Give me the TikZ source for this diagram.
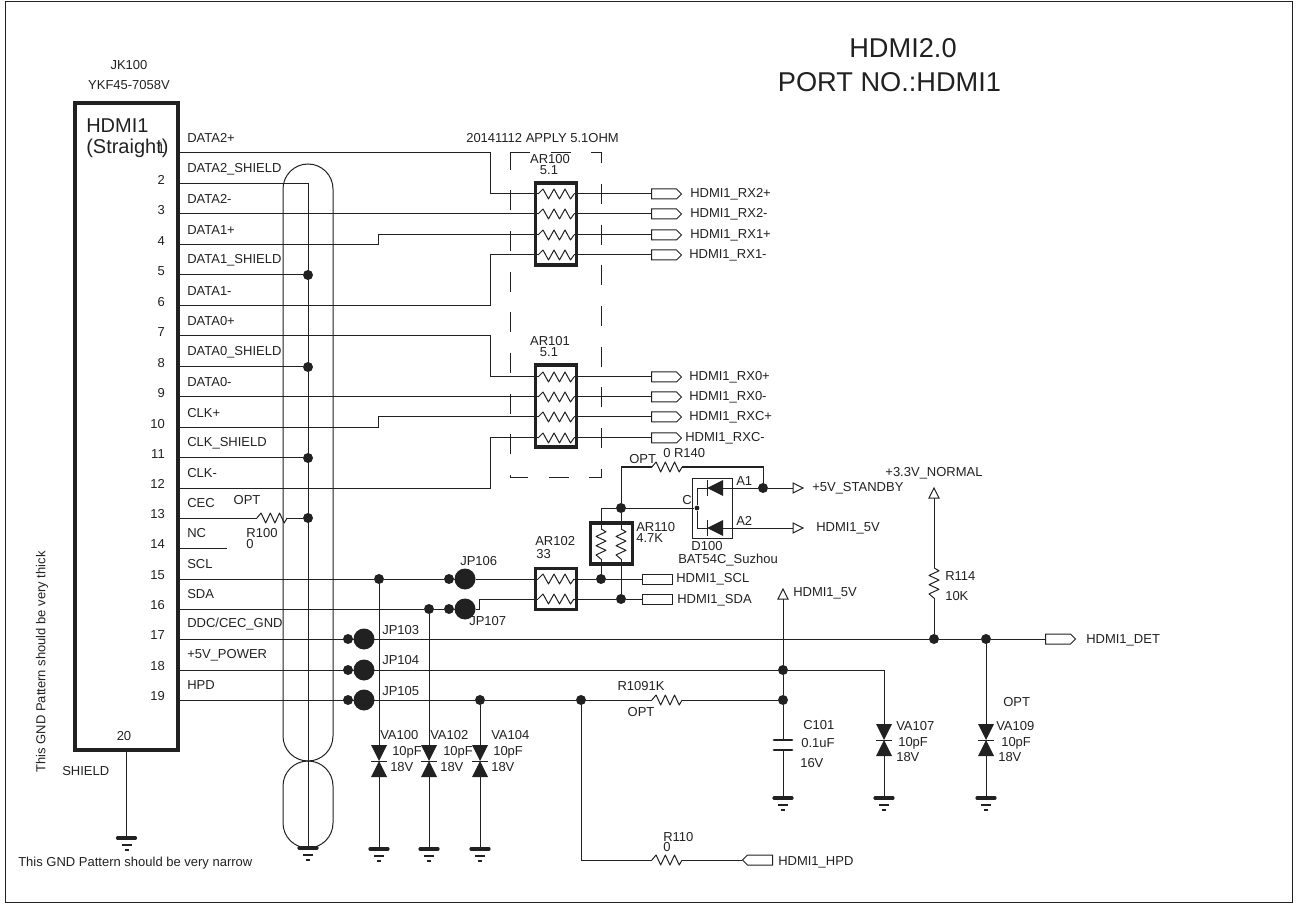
\documentclass[tikz,border=0pt]{standalone}
\usepackage{fontspec}
\setmainfont{Liberation Sans}
\usetikzlibrary{shapes.symbols}
\definecolor{ink}{gray}{0.13}

\begin{document}
\begin{tikzpicture}[
  x=.75pt,y=-.75pt,
  wire/.style={draw=ink,line width=.75pt},
  frame/.style={draw=ink,line width=.75pt,minimum width=965.25pt,minimum height=675pt},
  block/.style={draw=ink,line width=2.4pt,inner sep=0pt},
  guard/.style={draw=ink,line width=.75pt,dash pattern=on 15pt off 15.5pt},
  tube/.style={draw=ink,line width=.75pt,rounded corners=18.75pt,minimum width=37.5pt,inner sep=0pt},
  dot/.style={circle,fill=ink,inner sep=0pt,minimum size=7.5pt},
  tinydot/.style={circle,fill=ink,inner sep=0pt,minimum size=3.6pt},
  jumper/.style={circle,fill=ink,inner sep=0pt,minimum size=15.75pt},
  outport/.style={signal,signal to=east,draw=ink,line width=.75pt,inner sep=0pt,minimum width=22.5pt,minimum height=7.5pt},
  inport/.style={signal,signal to=west,draw=ink,line width=.75pt,inner sep=0pt,minimum width=22.5pt,minimum height=7.5pt},
  boxport/.style={draw=ink,line width=.75pt,inner sep=0pt,minimum width=22.5pt,minimum height=7.5pt},
  lbl/.style={text=ink,anchor=west,inner sep=0pt,font=\fontsize{9.75}{10}\selectfont},
  title/.style={text=ink,inner sep=0pt,font=\fontsize{20.4}{24}\selectfont},
  conn/.style={text=ink,anchor=west,inner sep=0pt,font=\fontsize{15}{17}\selectfont},
  rsmall/.style={xscale=.84},
  resistor/.pic={
    \draw[wire,line join=round] (-18,0) -- (-13,-5) -- (-7.5,5) -- (-2,-5) -- (3.5,5) -- (9,-5) -- (14.5,5) -- (18,0);
    \coordinate (-in) at (-18,0);
    \coordinate (-out) at (18,0);
  },
  ground/.pic={
    \draw[draw=ink,line width=2.4pt,line cap=round] (-9,0) -- (9,0);
    \draw[draw=ink,line width=.9pt] (-5,7) -- (5,7);
    \draw[draw=ink,line width=.9pt] (-2,12) -- (2,12);
    \coordinate (-top) at (0,0);
  },
  clamp/.pic={
    \fill[ink] (-8,-16) -- (8,-16) -- (0,0) -- cycle;
    \fill[ink] (-8,16) -- (8,16) -- (0,0) -- cycle;
    \draw[wire] (-8,0) -- (8,0);
    \coordinate (-top) at (0,-16);
    \coordinate (-bot) at (0,16);
  },
  diode/.pic={
    \fill[ink] (0,0) -- (16,-8) -- (16,8) -- cycle;
    \draw[wire] (0,-8) -- (0,8);
    \coordinate (-k) at (0,0);
    \coordinate (-a) at (16,0);
  },
  capplates/.pic={
    \draw[draw=ink,line width=2.2pt,line cap=round] (-9,-5) -- (9,-5);
    \draw[draw=ink,line width=2.2pt,line cap=round] (-9,5) -- (9,5);
    \coordinate (-top) at (0,-5);
    \coordinate (-bot) at (0,5);
  },
  rail/.pic={
    \draw[wire] (-5,0) -- (0,-10) -- (5,0) -- cycle;
    \coordinate (-base) at (0,0);
  }]
  \useasboundingbox (0,0) rectangle (1296,905);

  % Sheet frame and headings
  \node[frame] (sheet) at (648.5,452) {};
  \node[title] (head1) at (903,48) {HDMI2.0};
  \node[title] (head2) at (889.5,82) {PORT NO.:HDMI1};
  \node[lbl,anchor=center] (refJK) at (129,65) {JK100};
  \node[lbl,anchor=center] (partJK) at (129,85) {YKF45-7058V};
  \node[lbl] (apply) at (466,138) {20141112 APPLY 5.1OHM};

  % Connector body, shield tube, guard outline
  \node[block,minimum width=77.25pt,minimum height=485.25pt] (JK) at (126.5,426.5) {};
  \node[conn] (JKa) at (86,126) {HDMI1};
  \node[conn] (JKb) at (86,148) {(Straight)};
  \node[lbl,anchor=center] (pin20) at (124,736) {20};
  \node[lbl] (shield) at (62,771) {SHIELD};
  \node[lbl,rotate=90,anchor=center] (thick) at (42,662) {This GND Pattern should be very thick};
  \node[lbl] (narrow) at (18,863) {This GND Pattern should be very narrow};
  \node[tube,minimum height=447.75pt] (tubeA) at (308,462.5) {};
  \node[tube,minimum height=65.25pt] (tubeB) at (308,804.5) {};
  \draw[guard] (510,153) -- (601,153) -- (601,477) -- (510,477) -- cycle;

  % Pins down the right side of the connector
  \foreach \n/\py/\name in {1/153/DATA2+,2/184/DATA2\_SHIELD,3/214/DATA2-,4/245/DATA1+,
      5/275/DATA1\_SHIELD,6/306/DATA1-,7/336/DATA0+,8/367/DATA0\_SHIELD,9/397/DATA0-,
      10/428/CLK+,11/458/CLK\_SHIELD,12/488/CLK-,13/518/CEC,14/548/NC,15/579/SCL,
      16/609/SDA,17/639/{DDC/CEC\_GND},18/670/+5V\_POWER,19/700/HPD}{
    \coordinate (pin\n) at (178,\py);
    \node[lbl,anchor=east] (num\n) at (165,\py-4) {\n};
    \node[lbl] (name\n) at (187,\py-15) {\name};
  }

  % Series resistor packs and their output ports
  \node[block,minimum width=31pt,minimum height=61.5pt] (AR100) at (556,224) {};
  \node[block,minimum width=31pt,minimum height=61.5pt] (AR101) at (556,406) {};
  \node[block,minimum width=31pt,minimum height=30.75pt] (AR102) at (556,589) {};
  \foreach \k/\ry/\net/\lx in {a/194/RX2+/690,b/214/RX2-/690,c/235/RX1+/690,d/255/RX1-/689,
      e/377/RX0+/689,f/397/RX0-/689,g/417/RXC+/689,h/438/RXC-/685}{
    \pic (R\k) at (556,\ry) {resistor};
    \node[outport] (port\k) at (664,\ry) {};
    \node[lbl] (net\k) at (\lx,\ry) {HDMI1\_\net};
    \draw[wire] (R\k-out) -- (port\k.west);
  }
  \node[lbl,anchor=center] (refAR100) at (550,159) {AR100};
  \node[lbl,anchor=center] (valAR100) at (549,170) {5.1};
  \node[lbl,anchor=center] (refAR101) at (550,341) {AR101};
  \node[lbl,anchor=center] (valAR101) at (549,352) {5.1};
  \node[lbl] (refAR102) at (535,541) {AR102};
  \node[lbl] (valAR102) at (536,554) {33};

  \draw[wire] (pin1) -- ++(312,0) |- (Ra-in);
  \draw[wire] (pin3) -- (Rb-in);
  \draw[wire] (pin4) -- ++(200,0) |- (Rc-in);
  \draw[wire] (pin6) -- ++(312,0) |- (Rd-in);
  \draw[wire] (pin7) -- ++(312,0) |- (Re-in);
  \draw[wire] (pin9) -- (Rf-in);
  \draw[wire] (pin10) -- ++(200,0) |- (Rg-in);
  \draw[wire] (pin12) -- ++(312,0) |- (Rh-in);
  \coordinate (stubNC) at (227,548);
  \draw[wire] (pin14) -- (stubNC);

  % Shield wire and CEC
  \pic (gndS) at (126.5,838) {ground};
  \pic (gndT) at (308,848) {ground};
  \draw[wire] (JK.south) -- (gndS-top);
  \draw[wire] (pin2) -| (gndT-top);
  \foreach \n in {5,8,11,13}{
    \node[dot] (sh\n) at (pin\n-|gndT-top) {};
  }
  \draw[wire] (pin5) -- (sh5);
  \draw[wire] (pin8) -- (sh8);
  \draw[wire] (pin11) -- (sh11);
  \pic[rsmall] (R100) at (272,518) {resistor};
  \draw[wire] (pin13) -- (R100-in);
  \draw[wire] (R100-out) -- (sh13);
  \node[lbl,anchor=center] (optR100) at (247,500) {OPT};
  \node[lbl,anchor=center] (refR100) at (262,533) {R100};
  \node[lbl,anchor=center] (valR100) at (250,544) {0};

  % DDC lines with jumpers, pull-ups and the BAT54C
  \node[dot] (jSCL) at (379,579) {};
  \node[dot] (jSDA) at (429,609) {};
  \node[dot] (JP106s) at (449,579) {};
  \node[jumper] (JP106b) at (465,579) {};
  \node[dot] (JP107s) at (449,609) {};
  \node[jumper] (JP107b) at (465,609) {};
  \node[lbl] (refJP106) at (460,561) {JP106};
  \node[lbl] (refJP107) at (469,621) {JP107};
  \pic (Ri) at (556,579) {resistor};
  \pic (Rj) at (556,599) {resistor};
  \draw[wire] (pin15) -- (jSCL) -- (JP106s) -- (JP106b) -- (Ri-in);
  \draw[wire] (pin16) -- (jSDA) -- (JP107s) -- (JP107b);
  \draw[wire] (JP107b) -- ++(14,0) |- (Rj-in);
  \node[dot] (jSCLr) at (601,579) {};
  \node[dot] (jSDAr) at (621,599) {};
  \node[boxport] (portSCL) at (657,579) {};
  \node[boxport] (portSDA) at (657,599) {};
  \node[lbl] (netSCL) at (676,579) {HDMI1\_SCL};
  \node[lbl] (netSDA) at (677,600) {HDMI1\_SDA};
  \draw[wire] (Ri-out) -- (jSCLr) -- (portSCL.west);
  \draw[wire] (Rj-out) -- (jSDAr) -- (portSDA.west);

  \node[block,minimum width=32pt,minimum height=30.75pt] (AR110) at (611.5,543.5) {};
  \pic[rotate=90,rsmall] (Rk) at (601,544) {resistor};
  \pic[rotate=90,rsmall] (Rl) at (621,544) {resistor};
  \node[lbl] (refAR110) at (636,527) {AR110};
  \node[lbl] (valAR110) at (636,538) {4.7K};
  \node[dot] (jC) at (621,508) {};
  \node[tinydot] (jK) at (697,508) {};
  \draw[wire] (Rk-in) -- (jSCLr);
  \draw[wire] (Rl-in) -- (jSDAr);
  \draw[wire] (Rk-out) |- (jC);
  \draw[wire] (Rl-out) -- (jC);
  \draw[wire] (jC) -- (jK);

  \pic[rsmall] (R140) at (667,467) {resistor};
  \node[dot] (jA1) at (763,488) {};
  \draw[wire] (jC) |- (R140-in);
  \draw[wire] (R140-out) -| (jA1);
  \node[lbl] (optR140) at (629,459) {OPT};
  \node[lbl] (refR140) at (663,453) {0 R140};

  \node[draw=ink,line width=.75pt,minimum width=30pt,minimum height=45pt,inner sep=0pt] (D100) at (712,508) {};
  \pic (Da) at (707,488) {diode};
  \pic (Db) at (707,528) {diode};
  \draw[wire] (jK) |- (Da-k);
  \draw[wire] (jK) |- (Db-k);
  \pic[rotate=-90] (rail5V) at (793,488) {rail};
  \pic[rotate=-90] (railHDMI) at (793,528) {rail};
  \draw[wire] (Da-a) -- (jA1) -- (rail5V-base);
  \draw[wire] (Db-a) -- (railHDMI-base);
  \node[lbl,anchor=center] (labC) at (687,500) {C};
  \node[lbl] (labA1) at (736,481) {A1};
  \node[lbl] (labA2) at (736,521) {A2};
  \node[lbl,anchor=center] (refD100) at (707,546) {D100};
  \node[lbl,anchor=center] (partD100) at (728,560) {BAT54C\_Suzhou};
  \node[lbl] (net5V) at (812,488) {+5V\_STANDBY};
  \node[lbl] (netHDMI) at (816,528) {HDMI1\_5V};

  % Power, detect and hot plug lines
  \node[jumper] (JP103b) at (364,639) {};
  \node[dot] (JP103s) at (348,639) {};
  \node[jumper] (JP104b) at (364,670) {};
  \node[dot] (JP104s) at (348,670) {};
  \node[jumper] (JP105b) at (364,700) {};
  \node[dot] (JP105s) at (348,700) {};
  \node[lbl] (refJP103) at (382,630) {JP103};
  \node[lbl] (refJP104) at (382,660) {JP104};
  \node[lbl] (refJP105) at (382,691) {JP105};

  \node[dot] (jR114) at (934,639) {};
  \node[dot] (jVA109) at (986,639) {};
  \node[outport] (portDET) at (1058,639) {};
  \node[lbl] (netDET) at (1086,640) {HDMI1\_DET};
  \draw[wire] (pin17) -- (jR114) -- (jVA109) -- (portDET.west);
  \pic[rotate=90,rsmall] (R114) at (934,583) {resistor};
  \pic (rail33) at (934,498) {rail};
  \draw[wire] (jR114) -- (R114-in);
  \draw[wire] (R114-out) -- (rail33-base);
  \node[lbl] (refR114) at (945,576) {R114};
  \node[lbl] (valR114) at (945,596) {10K};
  \node[lbl,anchor=center] (net33) at (934,473) {+3.3V\_NORMAL};

  \node[dot] (jV5) at (783,670) {};
  \node[dot] (jHPDa) at (783,700) {};
  \pic (railV5) at (783,599) {rail};
  \node[lbl] (netV5) at (793,593) {HDMI1\_5V};
  \draw[wire] (pin18) -- (jV5) -- (railV5-base);
  \node[dot] (jVA104) at (480,700) {};
  \node[dot] (jHPD) at (581,700) {};
  \pic[rsmall] (R109) at (667,700) {resistor};
  \draw[wire] (pin19) -- (jVA104) -- (jHPD) -- (R109-in);
  \draw[wire] (R109-out) -- (jHPDa) -- (jV5);
  \node[lbl,anchor=center] (refR109) at (641,686) {R1091K};
  \node[lbl,anchor=center] (optR109) at (641,712) {OPT};

  \pic[rsmall] (R110) at (667,860) {resistor};
  \node[inport] (portHPD) at (760,860) {};
  \node[lbl] (netHPD) at (778,862) {HDMI1\_HPD};
  \draw[wire] (jHPD) |- (R110-in);
  \draw[wire] (R110-out) -- (portHPD.west);
  \node[lbl] (refR110) at (663,837) {R110};
  \node[lbl] (valR110) at (663,847) {0};

  % Clamp diodes and capacitor to ground
  \foreach \v/\vx/\from/\lxa/\lxb/\lxc in {VA100/379/jSCL/380/392/390,VA102/429/jSDA/430/443/440,VA104/480/jVA104/491/493/491}{
    \pic (\v) at (\vx,761) {clamp};
    \pic (gnd\v) at (\vx,849) {ground};
    \draw[wire] (\from) -- (\v-top);
    \draw[wire] (\v-bot) -- (gnd\v-top);
    \node[lbl] (ref\v) at (\lxa,735) {\v};
    \node[lbl] (cap\v) at (\lxb,752) {10pF};
    \node[lbl] (vol\v) at (\lxc,767) {18V};
  }
  \pic (VA107) at (884,740) {clamp};
  \pic (gndVA107) at (884,798) {ground};
  \draw[wire] (jV5) -| (VA107-top);
  \draw[wire] (VA107-bot) -- (gndVA107-top);
  \node[lbl] (refVA107) at (896,726) {VA107};
  \node[lbl] (capVA107) at (898,743) {10pF};
  \node[lbl] (volVA107) at (896,757) {18V};

  \pic (VA109) at (986,740) {clamp};
  \pic (gndVA109) at (986,798) {ground};
  \draw[wire] (jVA109) -- (VA109-top);
  \draw[wire] (VA109-bot) -- (gndVA109-top);
  \node[lbl] (optVA109) at (1003,702) {OPT};
  \node[lbl] (refVA109) at (996,726) {VA109};
  \node[lbl] (capVA109) at (1001,743) {10pF};
  \node[lbl] (volVA109) at (998,757) {18V};

  \pic (C101) at (783,745) {capplates};
  \pic (gndC101) at (783,798) {ground};
  \draw[wire] (jHPDa) -- (C101-top);
  \draw[wire] (C101-bot) -- (gndC101-top);
  \node[lbl] (refC101) at (803,725) {C101};
  \node[lbl] (valC101) at (801,743) {0.1uF};
  \node[lbl] (volC101) at (800,763) {16V};
\end{tikzpicture}
\end{document}
